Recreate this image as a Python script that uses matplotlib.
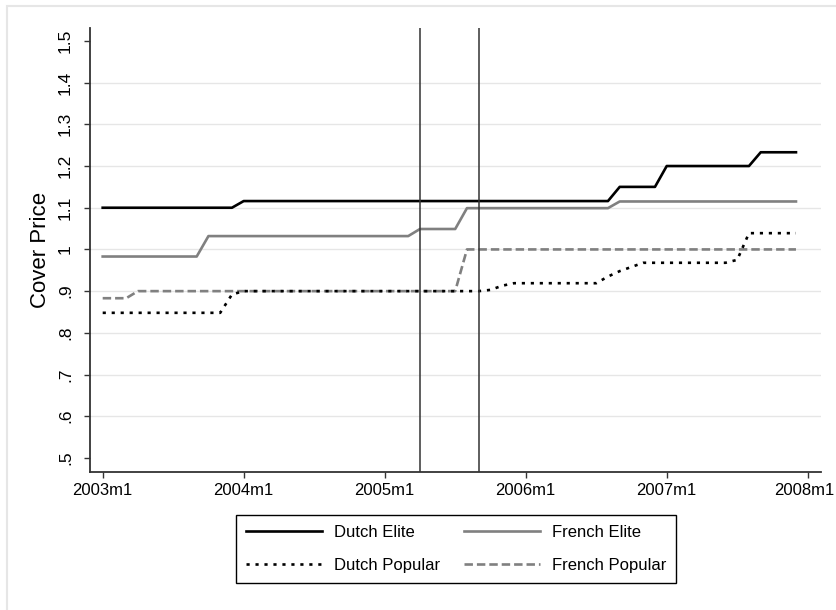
import numpy as np
import matplotlib.pyplot as plt
import matplotlib.transforms as mtransforms
from matplotlib.patches import Rectangle
from matplotlib.lines import Line2D

plt.rcParams['font.family'] = ['Liberation Sans', 'DejaVu Sans']

# monthly index, 0 = 2003m1 ... 59 = 2007m12
months = np.arange(60)

dutch_elite = [1.10] * 12 + [1.116] * 32 + [1.15] * 4 + [1.20] * 8 + [1.233] * 4
french_elite = [0.983] * 9 + [1.032] * 18 + [1.049] * 4 + [1.099] * 13 + [1.115] * 16
dutch_popular = ([0.848] * 11 + [0.892] + [0.90] * 21 + [0.903, 0.913] + [0.919] * 8
                 + [0.935, 0.948, 0.958] + [0.968] * 8 + [0.975] + [1.039] * 5)
french_popular = [0.883] * 3 + [0.90] * 28 + [1.00] * 29

event_months = [27, 32]

xtick_pos = [0, 12, 24, 36, 48, 60]
xtick_labels = ['2003m1', '2004m1', '2005m1', '2006m1', '2007m1', '2008m1']
ytick_pos = [0.5, 0.6, 0.7, 0.8, 0.9, 1.0, 1.1, 1.2, 1.3, 1.4, 1.5]
ytick_labels = ['.5', '.6', '.7', '.8', '.9', '1', '1.1', '1.2', '1.3', '1.4', '1.5']

W, H = 836, 610
fig = plt.figure(figsize=(W / 100, H / 100), dpi=100)
ax = fig.add_axes([90 / W, 1 - 471.7 / H, (821 - 90) / W, (471.7 - 28) / H])

# outer graph frame
fig.patches.append(Rectangle((7 / W, -0.1), 1.0, 1.1 - 6 / H, transform=fig.transFigure,
                             fill=False, edgecolor='#e6e6e6', lw=1.5))

gray = '#808080'
lw = 1.9
dot_style = (0, (1.2, 2.2))
dash_style = (0, (3.2, 1.5))

ax.plot(months, dutch_elite, color='black', lw=lw, zorder=4)
ax.plot(months, french_elite, color=gray, lw=lw, zorder=3)
ax.plot(months, dutch_popular, color='black', lw=lw, linestyle=dot_style,
        dash_capstyle='butt', zorder=4)
ax.plot(months, french_popular, color=gray, lw=lw, linestyle=dash_style,
        dash_capstyle='butt', zorder=3)

for m in event_months:
    ax.axvline(m, color='#333333', lw=1.1, zorder=5)

ax.set_xlim(-1.08, 61.13)
ax.set_ylim(0.467, 1.531)

ax.set_xticks(xtick_pos)
ax.set_xticklabels(xtick_labels)
ax.set_yticks(ytick_pos)
ax.set_yticklabels(ytick_labels)

for y in ytick_pos[1:-1]:
    ax.axhline(y, color='#e6e6e6', lw=1.0, zorder=1)

for side in ['top', 'right']:
    ax.spines[side].set_visible(False)
for side in ['left', 'bottom']:
    ax.spines[side].set_color('#333333')
    ax.spines[side].set_linewidth(1.3)

ax.tick_params(axis='both', colors='#333333', length=4.3, width=1.0, labelsize=12,
               labelcolor='black')
ax.tick_params(axis='x', pad=3.5)
ax.tick_params(axis='y', labelrotation=90, pad=8, labelsize=12.5)
for lab in ax.get_yticklabels():
    lab.set_va('center')

# last x label sits right at the edge; nudge it in a little so it isn't clipped
last = ax.get_xticklabels()[-1]
last.set_transform(last.get_transform() +
                   mtransforms.ScaledTranslation(-3 / 100, 0, fig.dpi_scale_trans))

ax.set_ylabel('Cover Price', fontsize=16, labelpad=5)

handles = [
    Line2D([], [], color='black', lw=lw),
    Line2D([], [], color='black', lw=lw, linestyle=dot_style, dash_capstyle='butt'),
    Line2D([], [], color=gray, lw=lw),
    Line2D([], [], color=gray, lw=lw, linestyle=dash_style, dash_capstyle='butt'),
]
labels = ['Dutch Elite', 'Dutch Popular', 'French Elite', 'French Popular']
leg = fig.legend(handles, labels, ncol=2, loc='center',
                 bbox_to_anchor=(456 / W, 1 - 549 / H),
                 frameon=True, fancybox=False, edgecolor='black', framealpha=1,
                 handlelength=4.6, handletextpad=0.7, columnspacing=1.4,
                 borderpad=0.6, labelspacing=1.05, fontsize=12)
leg.get_frame().set_linewidth(1.0)

fig.savefig('out.png', dpi=100, facecolor='white')
